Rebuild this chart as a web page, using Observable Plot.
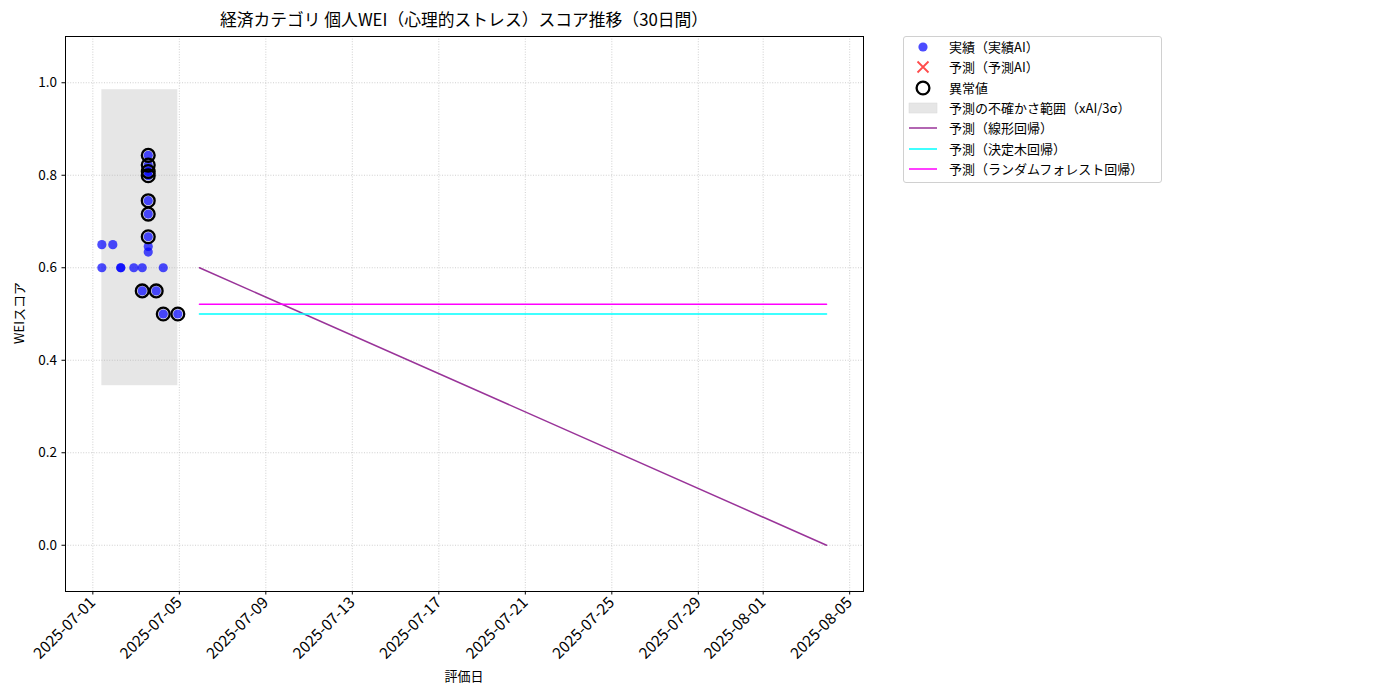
<!DOCTYPE html>
<html><head><meta charset="utf-8">
<script src="https://cdn.jsdelivr.net/npm/d3@7"></script>
<script src="https://cdn.jsdelivr.net/npm/@observablehq/plot@0.6"></script>
<style>
body{margin:0;background:#fff;font-family:"Noto Sans CJK JP","DejaVu Sans",sans-serif;}
#wrap{position:relative;width:1400px;height:700px;overflow:hidden;}
#wrap svg.plot{position:absolute;left:0;top:0;}
.lbl{position:absolute;color:#000;white-space:nowrap;}
#legend{position:absolute;left:903px;top:36px;width:257px;height:145px;border:1px solid #d0d0d0;border-radius:3px;background:#fff;}
.li{position:absolute;left:0;height:20px;font-size:13px;line-height:20px;}
.li svg{position:absolute;left:2px;top:0;}
.li span{position:absolute;left:45px;top:0;white-space:nowrap;}
</style></head>
<body><div id="wrap"></div>
<script>
// ---- data ----
const actualDates = ["2025-07-01T10:00Z","2025-07-01T10:00Z","2025-07-01T22:10Z","2025-07-02T07:00Z","2025-07-02T07:00Z","2025-07-02T21:30Z",
  "2025-07-03T06:50Z","2025-07-03T06:50Z","2025-07-03T13:30Z","2025-07-03T13:30Z","2025-07-03T13:30Z","2025-07-03T13:30Z",
  "2025-07-03T13:30Z","2025-07-03T13:30Z","2025-07-03T13:30Z","2025-07-03T13:30Z","2025-07-03T13:30Z",
  "2025-07-03T22:20Z","2025-07-04T06:10Z","2025-07-04T06:10Z","2025-07-04T22:20Z"];
const actualValues = [0.65,0.60,0.65,0.60,0.60,0.60,
  0.60,0.55,0.843,0.822,0.808,0.799,
  0.745,0.716,0.667,0.646,0.634,
  0.55,0.60,0.50,0.50];
const outlierDates = ["2025-07-03T06:50Z","2025-07-03T13:30Z","2025-07-03T13:30Z","2025-07-03T13:30Z","2025-07-03T13:30Z",
  "2025-07-03T13:30Z","2025-07-03T13:30Z","2025-07-03T13:30Z","2025-07-03T22:20Z","2025-07-04T06:10Z","2025-07-04T22:20Z"];
const outlierValues = [0.55,0.843,0.822,0.808,0.799,0.745,0.716,0.667,0.55,0.50,0.50];
const bandDates = ["2025-07-01T10:00Z","2025-07-04T22:20Z"];
const bandLow = 0.345, bandHigh = 0.985;
const forecastDates = ["2025-07-05T22:20Z","2025-08-03T22:20Z"];
const linearValues = [0.60, 0.0];
const treeValues = [0.50, 0.50];
const forestValues = [0.521, 0.521];
const xTickLabels = ["2025-07-01","2025-07-05","2025-07-09","2025-07-13","2025-07-17","2025-07-21","2025-07-25","2025-07-29","2025-08-01","2025-08-05"];
const yTicks = [0.0,0.2,0.4,0.6,0.8,1.0];
const xDomain = ["2025-06-29T17:40Z","2025-08-05T15:20Z"];

// ---- build ----
const P = d => new Date(d);
const actual = actualDates.map((d,i)=>({x:P(d),y:actualValues[i]}));
const outliers = outlierDates.map((d,i)=>({x:P(d),y:outlierValues[i]}));
const mk = vals => forecastDates.map((d,i)=>({x:P(d),y:vals[i]}));
const xTicks = xTickLabels.map(s=>new Date(s+"T00:00Z"));
const fmt = d3.utcFormat("%Y-%m-%d");
const gridStyle = {stroke:"#b0b0b0", strokeOpacity:0.75, strokeWidth:0.8, strokeDasharray:"1,1.6"};

const chart = Plot.plot({
  width:1400, height:700,
  marginLeft:65, marginRight:537, marginTop:36, marginBottom:109,
  style:{fontFamily:'"Noto Sans CJK JP","DejaVu Sans",sans-serif', fontSize:"13px", background:"transparent", color:"#000"},
  x:{type:"utc", domain:xDomain.map(P)},
  y:{domain:[-0.1,1.1]},
  marks:[
    Plot.rect([{}],{x1:()=>P(bandDates[0]), x2:()=>P(bandDates[1]), y1:()=>bandLow, y2:()=>bandHigh, fill:"gray", fillOpacity:0.2}),
    Plot.gridX(xTicks, gridStyle),
    Plot.gridY(yTicks, gridStyle),
    Plot.line(mk(linearValues),{x:"x",y:"y",stroke:"purple",strokeOpacity:0.8,strokeWidth:1.5}),
    Plot.line(mk(treeValues),{x:"x",y:"y",stroke:"cyan",strokeWidth:1.5}),
    Plot.line(mk(forestValues),{x:"x",y:"y",stroke:"magenta",strokeWidth:1.5}),
    Plot.dot(actual,{x:"x",y:"y",r:4.6,fill:"blue",fillOpacity:0.7,stroke:null}),
    Plot.dot(outliers,{x:"x",y:"y",r:6.4,fill:"none",stroke:"black",strokeWidth:2.3}),
    Plot.frame({stroke:"black",strokeWidth:1}),
    Plot.axisX(xTicks,{tickFormat:fmt, tickRotate:-45, tickSize:3.5, tickPadding:5, label:null, fontSize:15.5}),
    Plot.axisY(yTicks,{tickFormat:d3.format(".1f"), tickSize:3.5, tickPadding:5, label:null, fontSize:13.5})
  ]
});
chart.classList.add("plot");
const wrap = document.getElementById("wrap");
wrap.appendChild(chart);

function addLabel(text, css){const d=document.createElement("div");d.className="lbl";d.textContent=text;Object.assign(d.style,css);wrap.appendChild(d);return d;}
addLabel("経済カテゴリ 個人WEI（心理的ストレス）スコア推移（30日間）",{left:"464px",top:"7px",fontSize:"16.8px",transform:"translateX(-50%)"});
addLabel("評価日",{left:"464px",top:"666px",fontSize:"13px",transform:"translateX(-50%)"});
addLabel("WEIスコア",{left:"18px",top:"313px",fontSize:"13px",transform:"translate(-50%,-50%) rotate(-90deg)"});

// legend
const legendItems = [
  {t:"実績（実績AI）", icon:'<circle cx="17" cy="10" r="4.6" fill="blue" fill-opacity="0.7"/>'},
  {t:"予測（予測AI）", icon:'<path d="M11.5 4.5L22.5 15.5M22.5 4.5L11.5 15.5" stroke="red" stroke-opacity="0.7" stroke-width="1.8"/>'},
  {t:"異常値", icon:'<circle cx="17" cy="10" r="6.4" fill="none" stroke="black" stroke-width="2.3"/>'},
  {t:"予測の不確かさ範囲（xAI/3σ）", icon:'<rect x="3" y="5" width="28" height="10" fill="gray" fill-opacity="0.2" stroke="#d8d8d8" stroke-width="0.5"/>'},
  {t:"予測（線形回帰）", icon:'<line x1="3" y1="10" x2="31" y2="10" stroke="purple" stroke-opacity="0.8" stroke-width="1.5"/>'},
  {t:"予測（決定木回帰）", icon:'<line x1="3" y1="10" x2="31" y2="10" stroke="cyan" stroke-width="1.5"/>'},
  {t:"予測（ランダムフォレスト回帰）", icon:'<line x1="3" y1="10" x2="31" y2="10" stroke="magenta" stroke-width="1.5"/>'}
];
const legend = document.createElement("div"); legend.id="legend"; wrap.appendChild(legend);
const rowY = [0, 20.3, 40.6, 61, 81.3, 101.6, 122];
legendItems.forEach((it,i)=>{
  const row=document.createElement("div"); row.className="li"; row.style.top=rowY[i]+"px"; row.style.width="255px";
  row.innerHTML='<svg width="36" height="20">'+it.icon+'</svg>';
  const s=document.createElement("span"); s.textContent=it.t; row.appendChild(s);
  legend.appendChild(row);
});
</script></body></html>
